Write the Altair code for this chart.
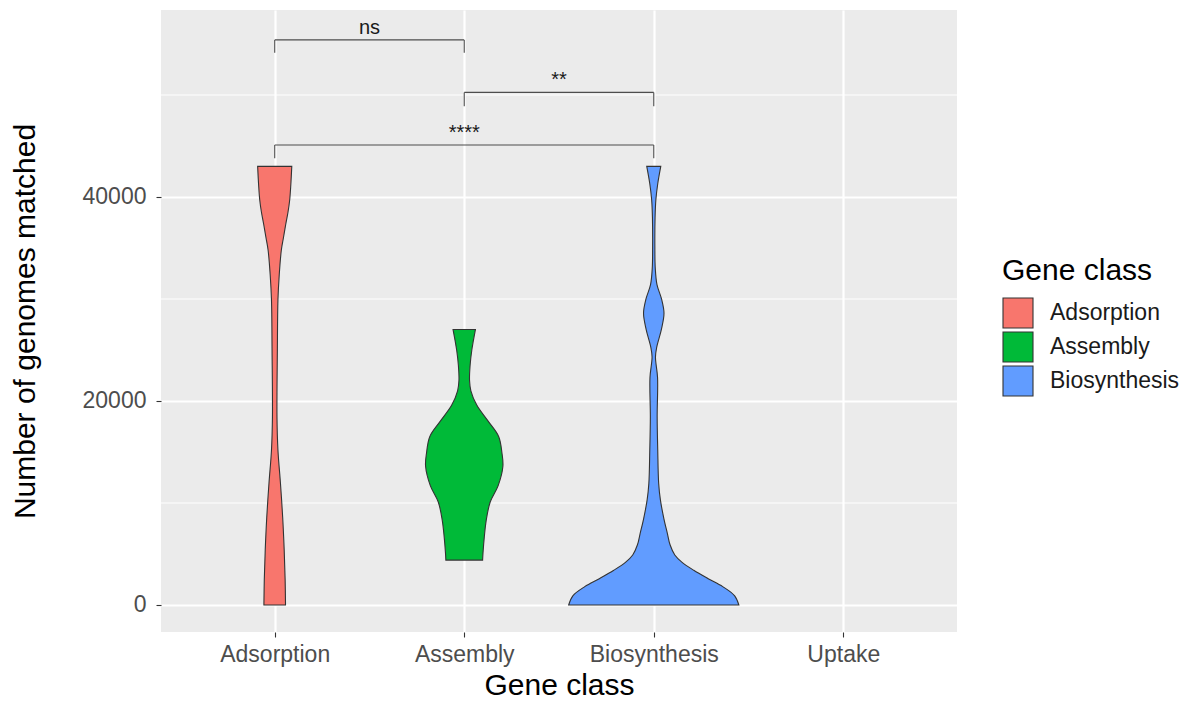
import json

import altair as alt
import pandas as pd

# Gene classes along the x axis (position 1..4) and their fill colours
classes = ["Adsorption", "Assembly", "Biosynthesis", "Uptake"]
legend_classes = ["Adsorption", "Assembly", "Biosynthesis"]
fill_colors = ["#F8766D", "#00BA38", "#619CFF"]

# Violin outlines: genome counts and half-widths (in category units)
adsorption_values = [43000, 41200, 39700, 38500, 37300, 36000, 34800, 32400,
                     29900, 25000, 18400, 15200, 12000, 8600, 5400, 2500, 0]
adsorption_half = [0.090, 0.085, 0.079, 0.070, 0.058, 0.046, 0.035, 0.024,
                   0.017, 0.014, 0.012, 0.017, 0.030, 0.042, 0.050, 0.055, 0.057]

assembly_values = [27000, 25000, 23500, 22000, 21000, 19600, 18000, 16500,
                   14900, 13600, 11700, 10100, 8300, 6700, 5100, 4400]
assembly_half = [0.059, 0.040, 0.031, 0.028, 0.035, 0.066, 0.127, 0.182,
                 0.199, 0.204, 0.179, 0.137, 0.116, 0.106, 0.099, 0.097]

biosynthesis_values = [43000, 41300, 39700, 38000, 35000, 33000, 31400, 30000,
                       28600, 27000, 25300, 24300, 22300, 18400, 15200, 11900,
                       10300, 8500, 7000, 5900, 4900, 4200, 3400, 2600, 1800,
                       900, 0]
biosynthesis_half = [0.037, 0.021, 0.011, 0.007, 0.006, 0.008, 0.017, 0.041,
                     0.054, 0.040, 0.016, 0.009, 0.020, 0.018, 0.021, 0.026,
                     0.035, 0.053, 0.072, 0.086, 0.111, 0.148, 0.211, 0.285,
                     0.364, 0.427, 0.449]

# Pairwise comparison brackets
bracket_left = [1, 2, 1]
bracket_right = [2, 3, 3]
bracket_top = [55400, 50250, 45100]
bracket_tip = [54150, 48900, 43800]
bracket_label = ["ns", "**", "****"]

# Grid values
y_major = [0, 20000, 40000]
y_minor = [10000, 30000, 50000]

FONT = "Liberation Sans"

rows = []
for name, vals, halfs in [
    ("Adsorption", adsorption_values, adsorption_half),
    ("Assembly", assembly_values, assembly_half),
    ("Biosynthesis", biosynthesis_values, biosynthesis_half),
]:
    pos = classes.index(name) + 1
    for v, h in zip(vals, halfs):
        rows.append({"cls": name, "pos": pos, "value": v, "half": h})
violin_df = pd.DataFrame(rows)

seg_rows = []
for l, r, t, tip in zip(bracket_left, bracket_right, bracket_top, bracket_tip):
    seg_rows.append({"x": l, "x2": r, "y": t, "y2": t})
    seg_rows.append({"x": l, "x2": l, "y": tip, "y2": t})
    seg_rows.append({"x": r, "x2": r, "y": tip, "y2": t})
seg_df = pd.DataFrame(seg_rows)

label_df = pd.DataFrame({
    "x": [(l + r) / 2 for l, r in zip(bracket_left, bracket_right)],
    "y": bracket_top,
    "label": bracket_label,
})

minor_df = pd.DataFrame({"y": y_minor})

x_scale = alt.Scale(domain=[0.4, 4.6], nice=False, zero=False)
y_scale = alt.Scale(domain=[-2650, 58330], nice=False, zero=False)

label_expr = json.dumps(classes) + "[datum.value - 1]"

x_axis = alt.Axis(
    values=[1, 2, 3, 4], labelExpr=label_expr, title="Gene class",
    grid=True, gridColor="white", gridWidth=2.2,
    domain=False, ticks=True, tickColor="#333333", tickSize=5, tickWidth=1.1,
    labelFont=FONT, labelFontSize=23, labelColor="#4D4D4D", labelPadding=6,
    titleFont=FONT, titleFontSize=30, titleFontWeight="normal",
    titleColor="black", titlePadding=4,
)
y_axis = alt.Axis(
    values=y_major, format="d", title="Number of genomes matched",
    grid=True, gridColor="white", gridWidth=2.2,
    domain=False, ticks=True, tickColor="#333333", tickSize=5, tickWidth=1.1,
    labelFont=FONT, labelFontSize=23, labelColor="#4D4D4D", labelPadding=10,
    titleFont=FONT, titleFontSize=30, titleFontWeight="normal",
    titleColor="black", titlePadding=42,
)

minor_grid = alt.Chart(minor_df).mark_rule(color="white", strokeWidth=1.1).encode(
    y=alt.Y("y:Q", scale=y_scale, axis=y_axis),
)

violins = alt.Chart(violin_df).transform_calculate(
    lo="datum.pos - datum.half", hi="datum.pos + datum.half"
).mark_area(
    orient="horizontal", interpolate="catmull-rom",
    stroke="#333333", strokeWidth=1.1, opacity=1,
).encode(
    y=alt.Y("value:Q", scale=y_scale, axis=y_axis),
    x=alt.X("lo:Q", scale=x_scale, axis=x_axis),
    x2="hi:Q",
    fill=alt.Fill(
        "cls:N",
        scale=alt.Scale(domain=legend_classes, range=fill_colors),
        legend=alt.Legend(
            title="Gene class", orient="none", legendX=841, legendY=246,
            titleFont=FONT, titleFontSize=30, titleFontWeight="normal",
            titleColor="black", titlePadding=11,
            labelFont=FONT, labelFontSize=23, labelColor="#1A1A1A",
            labelOffset=16, rowPadding=-6.5,
            symbolType="square", symbolSize=900,
            symbolStrokeColor="#333333", symbolStrokeWidth=1.1,
            symbolOpacity=1,
        ),
    ),
    detail="cls:N",
)

brackets = alt.Chart(seg_df).mark_rule(color="#4D4D4D", strokeWidth=1.1).encode(
    x=alt.X("x:Q", scale=x_scale),
    x2="x2:Q",
    y=alt.Y("y:Q", scale=y_scale),
    y2="y2:Q",
)

labels = alt.Chart(label_df).mark_text(
    font=FONT, fontSize=20, baseline="bottom", dy=-2, color="#1A1A1A",
).encode(
    x=alt.X("x:Q", scale=x_scale),
    y=alt.Y("y:Q", scale=y_scale),
    text="label:N",
)

chart = alt.layer(minor_grid, violins, brackets, labels).properties(
    width=796, height=622,
    padding={"left": 161, "top": 10, "right": 226, "bottom": 70},
    autosize=alt.AutoSizeParams(type="none"),
    background="white",
).configure_view(
    fill="#EBEBEB", stroke=None,
)

chart.save("out.html", embed_options={"renderer": "svg", "actions": False})
